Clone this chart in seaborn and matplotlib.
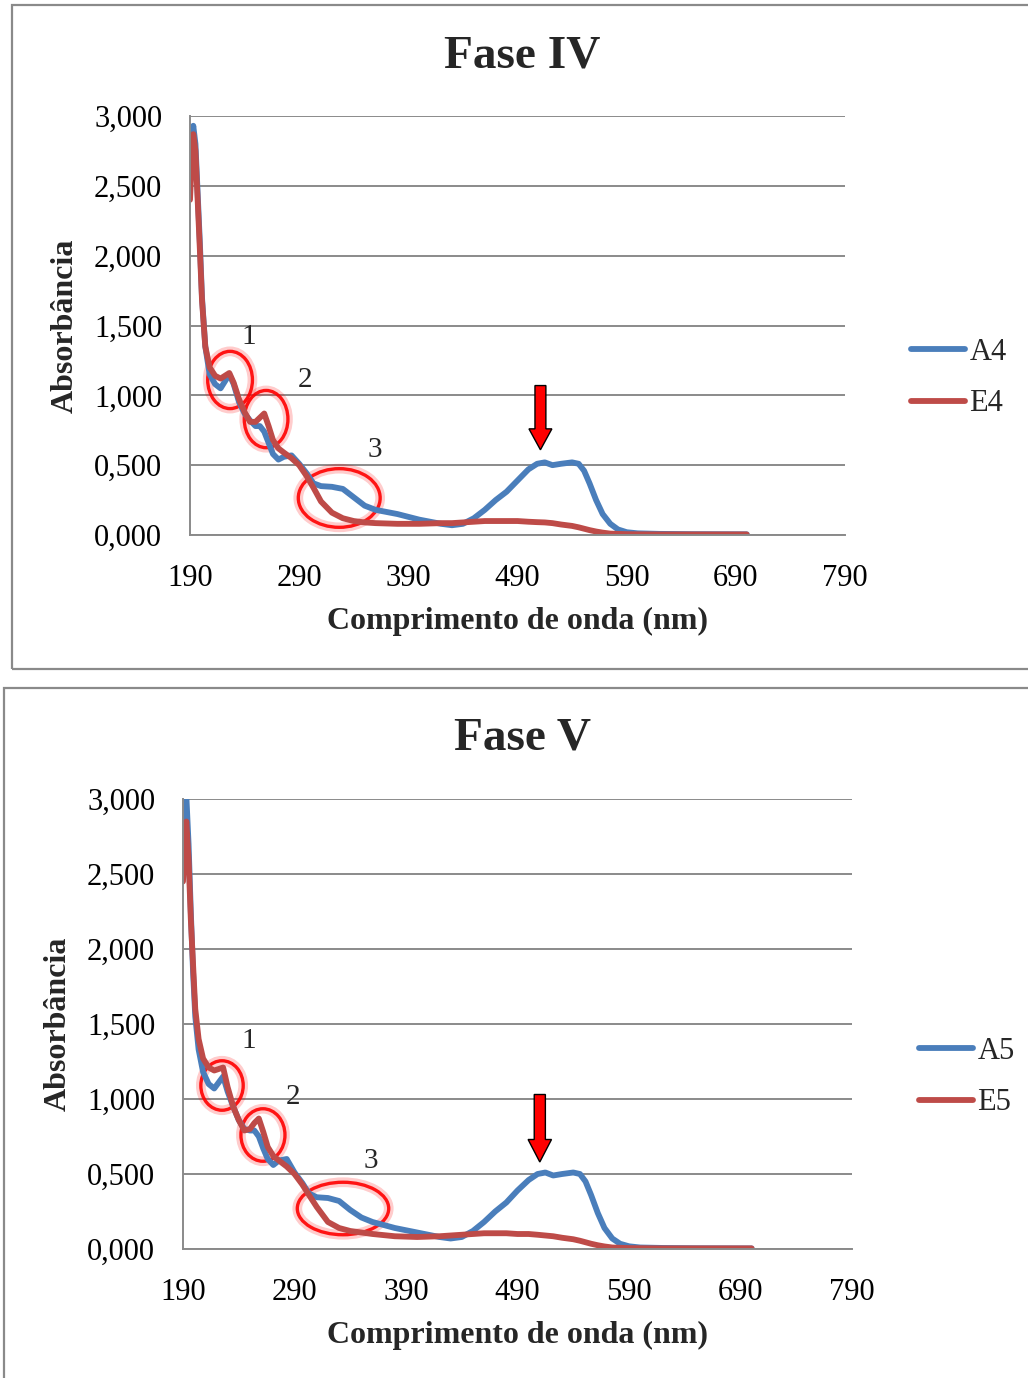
import matplotlib.pyplot as plt
import seaborn as sns
from matplotlib.patches import Ellipse, FancyArrow, Rectangle

# wavelengths (nm)
nm = [190, 192, 193, 195, 197, 199, 201, 204, 208, 213, 218, 222, 226, 230, 235,
      240, 245, 250, 254, 258, 262, 266, 271, 276, 283, 290, 297, 303, 310, 320,
      330, 340, 350, 360, 380, 400, 420, 430, 440, 450, 460, 470, 480, 490, 500,
      508, 515, 522, 530, 540, 546, 551, 556, 562, 568, 575, 582, 590, 600, 620,
      650, 700]

a4 = [2.50, 2.85, 2.93, 2.80, 2.45, 2.10, 1.70, 1.35, 1.15, 1.08, 1.05, 1.10, 1.15, 1.08, 0.95,
      0.87, 0.82, 0.78, 0.78, 0.74, 0.66, 0.58, 0.54, 0.56, 0.57, 0.51, 0.44, 0.37, 0.35, 0.345,
      0.33, 0.27, 0.21, 0.18, 0.15, 0.11, 0.08, 0.07, 0.08, 0.12, 0.18, 0.25, 0.31, 0.39, 0.47,
      0.51, 0.52, 0.50, 0.51, 0.52, 0.51, 0.46, 0.37, 0.25, 0.15, 0.08, 0.04, 0.02, 0.012, 0.008,
      0.006, 0.005]
e4 = [2.40, 2.75, 2.87, 2.75, 2.40, 2.05, 1.68, 1.35, 1.20, 1.14, 1.12, 1.14, 1.16, 1.09, 0.97,
      0.88, 0.81, 0.81, 0.84, 0.87, 0.78, 0.68, 0.62, 0.59, 0.55, 0.50, 0.42, 0.34, 0.24, 0.16,
      0.12, 0.10, 0.09, 0.085, 0.08, 0.08, 0.085, 0.085, 0.09, 0.095, 0.10, 0.10, 0.10, 0.10, 0.095,
      0.092, 0.09, 0.085, 0.075, 0.065, 0.055, 0.045, 0.035, 0.025, 0.017, 0.01, 0.008, 0.006, 0.005, 0.004,
      0.004, 0.004]

a5 = [2.60, 3.05, 3.02, 2.70, 2.25, 1.85, 1.55, 1.33, 1.18, 1.10, 1.07, 1.11, 1.15, 1.05, 0.95,
      0.86, 0.80, 0.79, 0.79, 0.75, 0.67, 0.60, 0.56, 0.59, 0.60, 0.51, 0.44, 0.37, 0.345, 0.34,
      0.32, 0.26, 0.21, 0.18, 0.14, 0.11, 0.08, 0.07, 0.08, 0.12, 0.18, 0.25, 0.31, 0.39, 0.46,
      0.50, 0.51, 0.49, 0.50, 0.51, 0.50, 0.45, 0.36, 0.24, 0.14, 0.07, 0.035, 0.018, 0.01, 0.007,
      0.005, 0.004]
e5 = [2.45, 2.80, 2.85, 2.60, 2.20, 1.90, 1.60, 1.40, 1.27, 1.21, 1.19, 1.20, 1.21, 1.08, 0.95,
      0.86, 0.79, 0.80, 0.84, 0.87, 0.78, 0.68, 0.62, 0.59, 0.55, 0.50, 0.43, 0.36, 0.28, 0.18,
      0.14, 0.12, 0.11, 0.10, 0.085, 0.08, 0.085, 0.09, 0.095, 0.10, 0.105, 0.105, 0.105, 0.10, 0.10,
      0.095, 0.09, 0.085, 0.075, 0.065, 0.055, 0.045, 0.035, 0.025, 0.017, 0.01, 0.008, 0.006, 0.005, 0.004,
      0.004, 0.004]

x_ticks = [190, 290, 390, 490, 590, 690, 790]
y_ticks = [0, 0.5, 1.0, 1.5, 2.0, 2.5, 3.0]
y_tick_labels = ["0,000", "0,500", "1,000", "1,500", "2,000", "2,500", "3,000"]

# annotation circles: (centre nm, centre A, width nm, height A)
circles_4 = [(226.7, 1.11, 41, 0.41), (259.7, 0.83, 40, 0.41), (326.7, 0.265, 75, 0.42)]
circles_5 = [(225, 1.09, 38, 0.33), (261.7, 0.76, 39.5, 0.35), (333.5, 0.27, 82, 0.35)]
labels_4 = [(244, 1.42, "1"), (295.5, 1.11, "2"), (359, 0.61, "3")]
labels_5 = [(249, 1.39, "1"), (288.7, 1.01, "2"), (358.6, 0.59, "3")]

BLUE = "#4A7EBB"
RED = "#BE4B48"
GRAY = "#8a8a8a"

sns.set_theme(style="white")
plt.rcParams["font.family"] = ["Liberation Serif", "DejaVu Serif"]

fig = plt.figure(figsize=(10.28, 13.78), dpi=100)

# chart frames
fig.add_artist(Rectangle((12 / 1028, 1 - 669 / 1378), 1.1, 664 / 1378, transform=fig.transFigure,
                         fill=False, edgecolor=GRAY, lw=1.6))
fig.add_artist(Rectangle((4 / 1028, -0.1), 1.1, 0.1 + 1 - 688 / 1378, transform=fig.transFigure,
                         fill=False, edgecolor=GRAY, lw=1.6))

panels = [
    dict(rect=[190 / 1028, 1 - 535 / 1378, 655 / 1028, 419 / 1378], a=a4, e=e4, names=("A4", "E4"),
         title="Fase IV", title_y=1 - 56 / 1378, circles=circles_4, labels=labels_4,
         arrow=(511, 1.07, 0.61), leg=(896 / 1028, 1 - 378 / 1378)),
    dict(rect=[183 / 1028, 1 - 1249 / 1378, 669 / 1028, 450 / 1378], a=a5, e=e5, names=("A5", "E5"),
         title="Fase V", title_y=1 - 739 / 1378, circles=circles_5, labels=labels_5,
         arrow=(510, 1.03, 0.58), leg=(904 / 1028, 1 - 1077 / 1378)),
]

for p in panels:
    ax = fig.add_axes(p["rect"])
    sns.lineplot(x=nm, y=p["a"], ax=ax, color=BLUE, lw=4.2, label=p["names"][0])
    sns.lineplot(x=nm, y=p["e"], ax=ax, color=RED, lw=4.2, label=p["names"][1])
    ax.set_xlim(190, 790)
    ax.set_ylim(0, 3)
    ax.set_xticks(x_ticks)
    ax.set_xticklabels([str(t) for t in x_ticks])
    ax.set_yticks(y_ticks)
    ax.set_yticklabels(y_tick_labels)
    ax.grid(axis="y", color=GRAY, lw=1.4)
    ax.grid(axis="x", visible=False)
    ax.set_axisbelow(True)
    for s in ["top", "right"]:
        ax.spines[s].set_visible(False)
    for s in ["left", "bottom"]:
        ax.spines[s].set_color(GRAY)
        ax.spines[s].set_linewidth(1.4)
    ax.tick_params(axis="both", length=0, labelsize=22, colors="black")
    ax.tick_params(axis="y", pad=20)
    ax.tick_params(axis="x", pad=21)
    ax.set_xlabel("Comprimento de onda (nm)", fontsize=23, fontweight="bold", labelpad=10)
    ax.set_ylabel("Absorbância", fontsize=23, fontweight="bold", labelpad=10)

    for cx, cy, w, h in p["circles"]:
        ax.add_patch(Ellipse((cx, cy), w, h, fill=False, edgecolor="red", lw=7, alpha=0.2))
        ax.add_patch(Ellipse((cx, cy), w, h, fill=False, edgecolor="red", lw=2.4, alpha=0.9))
    for lx, ly, t in p["labels"]:
        ax.text(lx, ly, t, fontsize=21, ha="center", va="center")

    ax_x, y0, y1 = p["arrow"]
    ax.add_patch(FancyArrow(ax_x, y0, 0, y1 - y0, width=10, head_width=21, head_length=0.15,
                            length_includes_head=True, facecolor="#ff0000", edgecolor="black", lw=1))

    fig.text(522 / 1028, p["title_y"], p["title"], fontsize=34, fontweight="bold", ha="center", va="center")

    ax.legend(loc="center left", bbox_to_anchor=p["leg"], bbox_transform=fig.transFigure,
              frameon=False, fontsize=22, handlelength=1.75, handletextpad=0.15,
              labelspacing=0.75, borderpad=0)

fig.savefig("out.png", dpi=100)
